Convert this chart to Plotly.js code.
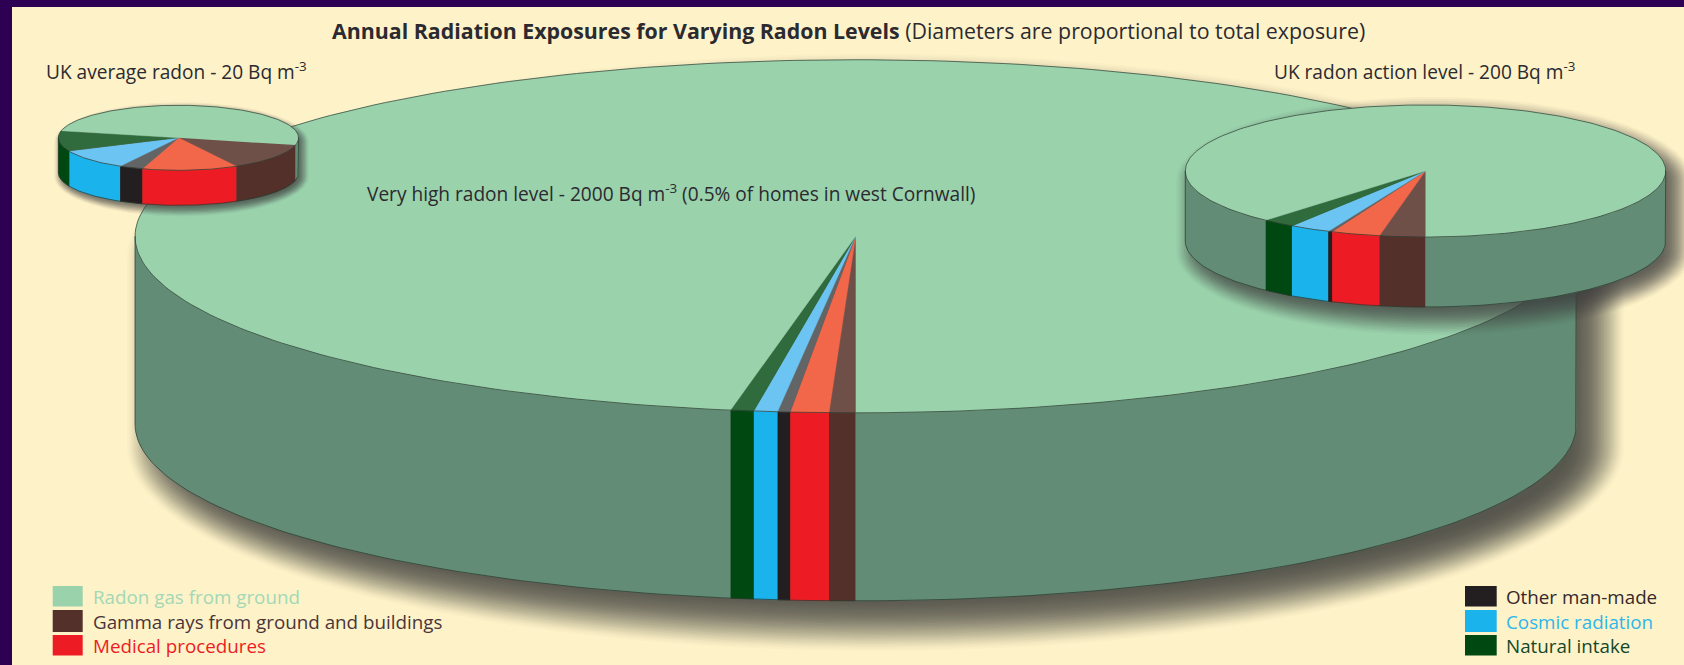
<!DOCTYPE html>
<html>
<head>
<meta charset="utf-8">
<script src="https://cdn.plot.ly/plotly-3.0.1.min.js"></script>
<style>html,body{margin:0;padding:0;background:#2d0054}#chart{width:1684px;height:665px}</style>
</head>
<body>
<div id="chart"></div>
<script>
// ---- Data: share of total exposure (%) for each pie ----
const pieLabels = ["UK average radon - 20 Bq m<sup>-3</sup>",
                   "UK radon action level - 200 Bq m<sup>-3</sup>",
                   "Very high radon level - 2000 Bq m<sup>-3</sup> (0.5% of homes in west Cornwall)"];
const relativeTotalExposure = [1, 2, 6];
const gammaRays    = [13.4, 3.07, 0.59];
const medical      = [12.9, 3.29, 0.86];
const otherManMade = [3.2, 0.28, 0.28];
const cosmic       = [10.1, 2.75, 0.53];
const naturalIntake= [10.3, 2.20, 0.52];
const radonGas     = [50.2, 88.41, 97.22];
const sourceNames = ["Gamma rays from ground and buildings", "Medical procedures", "Other man-made",
                     "Cosmic radiation", "Natural intake", "Radon gas from ground"];
const titleBold = "Annual Radiation Exposures for Varying Radon Levels";
const titleRest = " (Diameters are proportional to total exposure)";

// ---- Styles ----
const topColors  = ["#6e5048", "#f26649", "#636466", "#6cc4f3", "#2f6b3c", "#9ad2ac"];
const sideColors = ["#53302a", "#ed1c24", "#231f20", "#1ab3ec", "#004812", "#628c75"];
const textColors = ["#4a3438", "#ed1c24", "#35282c", "#2fb6ea", "#12482a", "#a2d8b6"];
const cream = "#fef2c8", frame = "#2d0054", ink = "#2b2a30";

// ---- Geometry of the 3D projection (drawing order: big pie first) ----
const unitRadius = 120.1;
const drawOrder = [2, 0, 1];
const centreX = [178.5, 1425.5, 855.7];
const centreY = [137.8, 171, 236.3];
const tilt    = [0.271, 0.275, 0.245];
const depth   = [35, 70, 188];
const startDeg= [-77, 0, 0];
const shadow  = [{dx:3,dy:4,spread:7,n:12,t:0.78},{dx:9,dy:10,spread:18,n:20,t:0.82},{dx:20,dy:22,spread:28,n:34,t:0.82}];

const rad = d => d * Math.PI / 180;
function arc(p, fromDeg, toDeg, dy, grow, ox, oy) {
  const rx = unitRadius * relativeTotalExposure[p] + (grow||0);
  const ry = unitRadius * relativeTotalExposure[p] * tilt[p] + (grow||0);
  const n = Math.max(2, Math.ceil(Math.abs(toDeg - fromDeg) / 1.2));
  const xs = [], ys = [];
  for (let i = 0; i <= n; i++) {
    const t = rad(fromDeg + (toDeg - fromDeg) * i / n);
    xs.push(centreX[p] + (ox||0) - rx * Math.sin(t));
    ys.push(centreY[p] + (oy||0) + ry * Math.cos(t) + (dy||0));
  }
  return {x: xs, y: ys};
}
function poly(x, y, color, lw) {
  return {type:"scatter", mode:"lines", x, y, fill:"toself", fillcolor:color,
          line:{color:color, width:lw===undefined?0.4:lw}, hoverinfo:"skip", showlegend:false};
}

const traces = [];
drawOrder.forEach(p => {
  const series = [gammaRays[p], medical[p], otherManMade[p], cosmic[p], naturalIntake[p], radonGas[p]];
  const sum = series.reduce((a, b) => a + b, 0);
  // soft shadow: stacked translucent silhouettes, gently tapered at the outer edge
  const s = shadow[p];
  const weights = [];
  for (let k = 0; k < s.n; k++) weights.push(0.35 + Math.sin(Math.PI * (k + 0.5) / s.n));
  const wSum = weights.reduce((a, b) => a + b, 0);
  for (let k = 0; k < s.n; k++) {
    const g = s.spread - 2 * s.spread * k / (s.n - 1);
    const low = arc(p, -90, 90, depth[p], g, s.dx, s.dy);
    const up  = arc(p, 90, 270, 0, g, s.dx, s.dy);
    const al = 1 - Math.pow(1 - s.t, weights[k] / wSum);
    traces.push(poly(low.x.concat(up.x), low.y.concat(up.y), "rgba(62,64,62," + al.toFixed(4) + ")", 0));
  }
  // sides
  let a = startDeg[p];
  series.forEach((v, i) => {
    const b = a + v / sum * 360;
    const ranges = [[a, b], [a - 360, b - 360]];
    ranges.forEach(r => {
      const lo = Math.max(r[0], -90), hi = Math.min(r[1], 90);
      if (hi > lo) {
        const upper = arc(p, lo, hi, 0), lower = arc(p, hi, lo, depth[p]);
        traces.push(poly(upper.x.concat(lower.x), upper.y.concat(lower.y), sideColors[i]));
      }
    });
    a = b;
  });
  // top face
  a = startDeg[p];
  series.forEach((v, i) => {
    const b = a + v / sum * 360;
    const edge = arc(p, a, b, 0);
    traces.push(poly([centreX[p]].concat(edge.x), [centreY[p]].concat(edge.y), topColors[i]));
    a = b;
  });
  // outlines
  const rim = arc(p, 0, 360, 0);
  const base = arc(p, -90, 90, depth[p]);
  const outlineColor = "rgba(40,55,45,0.85)";
  traces.push({type:"scatter", mode:"lines", x:rim.x, y:rim.y, line:{color:outlineColor, width:0.8}, hoverinfo:"skip", showlegend:false});
  const R = arc(p, -90, -90, 0), L = arc(p, 90, 90, 0);
  traces.push({type:"scatter", mode:"lines",
    x:[R.x[0]].concat(base.x, [L.x[0]]), y:[R.y[0]].concat(base.y, [L.y[0]]),
    line:{color:outlineColor, width:0.8}, hoverinfo:"skip", showlegend:false});
});

// ---- Text ----
const labelSpec = [{x:44, y:70.5}, {x:1272, y:71}, {x:365, y:192.5}];
const annotations = [{
  x:330, y:30, xref:"x", yref:"y", xanchor:"left", yanchor:"middle", showarrow:false,
  text:"<b>" + titleBold + "</b>" + titleRest, font:{family:"Open Sans", size:21.35, color:ink}
}];
pieLabels.forEach((t, i) => annotations.push({
  x:labelSpec[i].x, y:labelSpec[i].y, xref:"x", yref:"y", xanchor:"left", yanchor:"middle", showarrow:false,
  text:t, font:{family:"Open Sans", size:19.1, color:ink}
}));

// ---- Legend (two hand-placed columns, with coloured labels) ----
const legendColumns = [{order:[5,0,1], x0:52.7, x1:82.7, tx:91},
                       {order:[2,3,4], x0:1465, x1:1496.7, tx:1503.5}];
const legendRows = [{y0:586, y1:606.5, ty:596.5}, {y0:610, y1:632, ty:621.5}, {y0:635, y1:655.5, ty:645.5}];
const shapes = [];
legendColumns.forEach(c => c.order.forEach((src, r) => {
  shapes.push({type:"rect", xref:"x", yref:"y", x0:c.x0, x1:c.x1, y0:legendRows[r].y0, y1:legendRows[r].y1,
               fillcolor:sideColors[src] === "#628c75" ? topColors[5] : sideColors[src], line:{width:0}, layer:"above"});
  annotations.push({x:c.tx, y:legendRows[r].ty, xref:"x", yref:"y", xanchor:"left", yanchor:"middle", showarrow:false,
    text:sourceNames[src], font:{family:"Open Sans", size:18.8, color:textColors[src]}});
}));

const layout = {
  width:1684, height:665, autosize:false,
  margin:{l:12, r:0, t:7, b:0, pad:0},
  paper_bgcolor:frame, plot_bgcolor:cream,
  xaxis:{range:[12, 1684], visible:false, fixedrange:true},
  yaxis:{range:[665, 7], visible:false, fixedrange:true},
  showlegend:false, annotations, shapes, hovermode:false
};
Plotly.newPlot("chart", traces, layout, {displayModeBar:false, staticPlot:true});
</script>
</body>
</html>
